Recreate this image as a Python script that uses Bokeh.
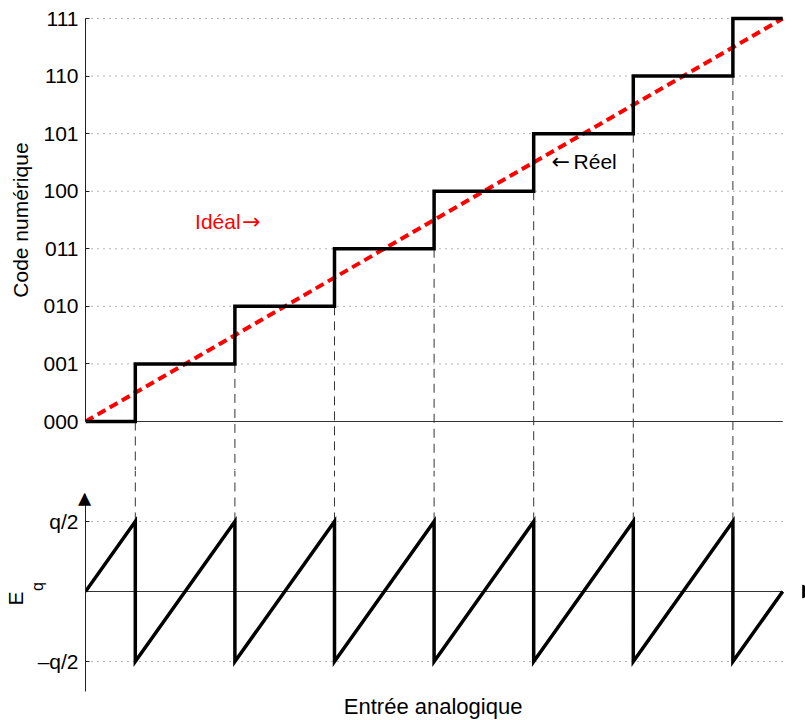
import math
from bokeh.plotting import figure
from bokeh.layouts import column
from bokeh.models import Range1d, FixedTicker, Label, LinearAxis
from bokeh.embed import file_html
from bokeh.resources import INLINE

# ---------------- data ----------------
codes = [0, 1, 2, 3, 4, 5, 6, 7]
code_labels = ["000", "001", "010", "011", "100", "101", "110", "111"]
thresholds = [0.5, 1.5, 2.5, 3.5, 4.5, 5.5, 6.5]
x_min = 0
x_max = 7
ideal_x = [0, 7]
ideal_y = [0, 7]
err_x = [0, 0.5, 0.5, 1.5, 1.5, 2.5, 2.5, 3.5, 3.5, 4.5, 4.5, 5.5, 5.5, 6.5, 6.5, 7]
err_y = [0, 0.5, -0.5, 0.5, -0.5, 0.5, -0.5, 0.5, -0.5, 0.5, -0.5, 0.5, -0.5, 0.5, -0.5, 0]
err_ticks = [-0.5, 0.5]
err_labels = ["\u2013q/2", "q/2"]

# staircase built from thresholds and codes
stair_x = [x_min]
stair_y = [codes[0]]
for i, t in enumerate(thresholds):
    stair_x += [t, t]
    stair_y += [codes[i], codes[i + 1]]
stair_x.append(x_max)
stair_y.append(codes[-1])

FONT = "Liberation Sans"
ARROW_FONT = "DejaVu Sans"
W = 805
LEFT = 85
X_RANGE = (0, 7.229)
NBSP = "\u00a0"
EMSP = "\u2003"


def style_axis(a, size="21px"):
    a.major_tick_in = 4
    a.major_tick_out = 0
    a.minor_tick_line_color = None
    a.major_label_standoff = 7
    a.major_label_text_font = FONT
    a.major_label_text_font_size = size
    a.major_label_text_color = "black"
    a.axis_line_color = "#222222"
    a.major_tick_line_color = "#222222"
    a.axis_label_text_font = FONT
    a.axis_label_text_font_style = "normal"
    a.axis_label_text_color = "black"


GRID = dict(line_color="#666666", line_width=1, line_dash="1 5")
VDASH = dict(line_color="#333333", line_width=1, line_dash="9 6")

# ---------------- top panel ----------------
Y1 = (-0.851, 7.139)
p1 = figure(width=W, height=470, output_backend="svg", toolbar_location=None,
            x_range=Range1d(*X_RANGE), y_range=Range1d(*Y1),
            min_border_left=LEFT, min_border_right=0, min_border_top=10, min_border_bottom=0,
            outline_line_color=None)
p1.xaxis.visible = False
p1.xgrid.visible = False
p1.ygrid.visible = False
ax = p1.yaxis[0]
style_axis(ax)
ax.ticker = FixedTicker(ticks=codes)
ax.major_label_overrides = {c: l for c, l in zip(codes, code_labels)}
ax.bounds = (codes[0], codes[-1])
ax.axis_label = NBSP * 7 + "Code numérique"
ax.axis_label_text_font_size = "21px"
ax.axis_label_standoff = 8

p1.segment(x0=[x_min] * len(codes), y0=codes, x1=[x_max] * len(codes), y1=codes, **GRID)
p1.segment(x0=[x_min], y0=[0], x1=[x_max], y1=[0], line_color="#333333", line_width=1)
p1.segment(x0=thresholds, y0=codes[:-1], x1=thresholds, y1=[Y1[0]] * len(thresholds), **VDASH)
p1.line(ideal_x, ideal_y, line_color="red", line_width=4, line_dash="9 5")
p1.line(stair_x, stair_y, line_color="black", line_width=3.5, line_join="miter")

p1.add_layout(Label(x=1.10, y=3.47, text="Idéal", text_color="red",
                    text_font=FONT, text_font_size="21px",
                    text_align="left", text_baseline="middle"))
p1.add_layout(Label(x=1.575, y=3.47, text="\u2192", text_color="red",
                    text_font=ARROW_FONT, text_font_size="22px",
                    text_align="left", text_baseline="middle"))
p1.add_layout(Label(x=4.68, y=4.52, text="\u2190", text_color="black",
                    text_font=ARROW_FONT, text_font_size="22px",
                    text_align="left", text_baseline="middle"))
p1.add_layout(Label(x=4.90, y=4.52, text="Réel", text_color="black",
                    text_font=FONT, text_font_size="21px",
                    text_align="left", text_baseline="middle"))

# ---------------- bottom panel ----------------
Y2 = (-0.921, 0.864)
AX2_TOP = 0.693
AX2_BOTTOM = -0.714
p2 = figure(width=W, height=250, output_backend="svg", toolbar_location=None,
            x_range=Range1d(*X_RANGE), y_range=Range1d(*Y2),
            min_border_left=LEFT, min_border_right=0, min_border_top=0, min_border_bottom=0,
            outline_line_color=None)
p2.xaxis.visible = False
p2.xgrid.visible = False
p2.ygrid.visible = False
bx = p2.yaxis[0]
style_axis(bx)
bx.ticker = FixedTicker(ticks=err_ticks)
bx.major_label_overrides = {t: l for t, l in zip(err_ticks, err_labels)}
bx.bounds = (AX2_BOTTOM, AX2_TOP)
# arrow head at the top of the error axis (the axis' own label, pulled back onto the axis line)
bx.axis_label = EMSP * 11 + NBSP + "\u25b6"
bx.axis_label_text_font = ARROW_FONT
bx.axis_label_text_font_size = "17px"
bx.axis_label_standoff = -58

# "E_q" axis title built from two label-only axes (E, and the subscript q)
q_axis = LinearAxis(ticker=FixedTicker(ticks=[]),
                    axis_line_color=None, major_tick_line_color=None,
                    minor_tick_line_color=None, major_label_standoff=0,
                    axis_label=NBSP * 4 + "q", axis_label_text_font=FONT,
                    axis_label_text_font_size="16px", axis_label_text_font_style="normal",
                    axis_label_text_color="black", axis_label_standoff=24)
e_axis = LinearAxis(ticker=FixedTicker(ticks=[]),
                    axis_line_color=None, major_tick_line_color=None,
                    minor_tick_line_color=None, major_label_standoff=0,
                    axis_label="E" + NBSP, axis_label_text_font=FONT,
                    axis_label_text_font_size="21px", axis_label_text_font_style="normal",
                    axis_label_text_color="black", axis_label_standoff=-1)
p2.add_layout(q_axis, "left")
p2.add_layout(e_axis, "left")

p2.segment(x0=[x_min] * len(err_ticks), y0=err_ticks, x1=[x_max] * len(err_ticks), y1=err_ticks, **GRID)
p2.segment(x0=[x_min], y0=[0], x1=[x_max], y1=[0], line_color="#333333", line_width=1)
p2.segment(x0=thresholds, y0=[err_ticks[1]] * len(thresholds), x1=thresholds,
           y1=[Y2[1]] * len(thresholds), **VDASH)
p2.line(err_x, err_y, line_color="black", line_width=3.5, line_join="miter")

# arrow head at the right end of the horizontal axis
p2.scatter(x=[X_RANGE[1] + 0.01], y=[0], marker="triangle", angle=-math.pi / 2,
           size=13, fill_color="black", line_color="black")

# x label
p2.add_layout(Label(x=(x_min + x_max) / 2 - 0.01, y=-0.821, text="Entrée analogique",
                    text_font=FONT, text_font_size="22px", text_color="black",
                    text_align="center", text_baseline="middle"))

layout = column(p1, p2, spacing=0)
open("out.html", "w").write(file_html(layout, INLINE))
